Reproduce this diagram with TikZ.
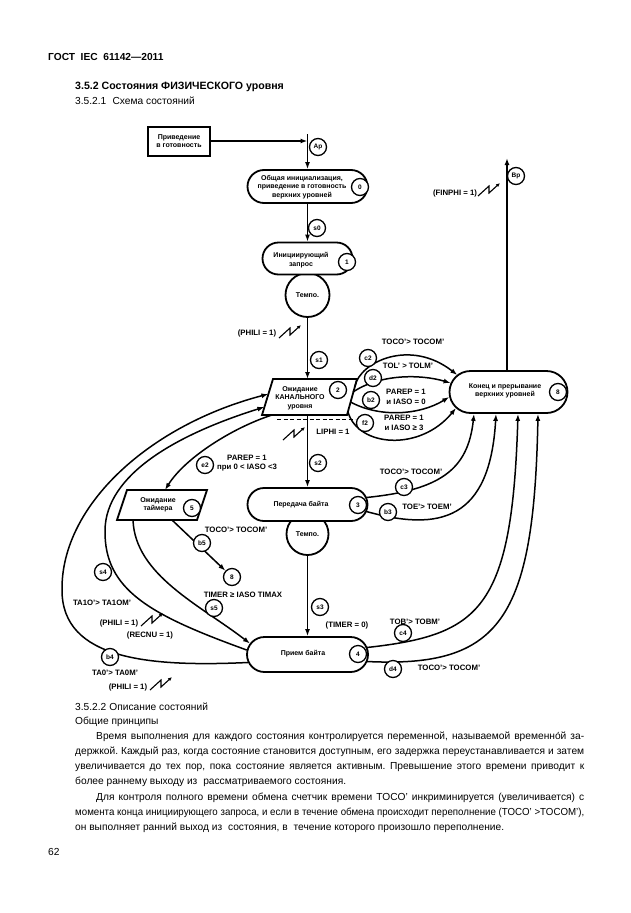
\documentclass[tikz,border=0pt]{standalone}
\usepackage{fontspec}
\usepackage{graphicx}
\setmainfont{Liberation Sans}[WordSpace={1,1,2.2}]
\usetikzlibrary{arrows.meta}
\frenchspacing
\newcommand{\nodefont}{\bfseries\fontsize{7}{8.5}\selectfont}
\newcommand{\condfont}{\bfseries\fontsize{7.8}{9.6}\selectfont}
\newcommand{\numfont}{\bfseries\fontsize{6.5}{7}\selectfont}
\newcommand{\bodyfont}{\fontsize{10.2}{15}\selectfont}
\newcommand{\headfont}{\bfseries\fontsize{10.6}{12}\selectfont}
\tikzset{
  stadium/.style={draw, line width=1.8pt, fill=white, rounded corners=16.5pt,
    minimum width=120pt, minimum height=33pt, inner sep=0pt},
  rdybox/.style={draw, line width=2pt, fill=white, minimum width=62pt,
    minimum height=29pt, inner sep=0pt, align=center, font=\nodefont},
  pbox/.style={draw, line width=1.8pt, fill=white, line join=miter},
  tempo/.style={draw, circle, line width=1.8pt, fill=white, minimum size=44pt,
    inner sep=0pt, font=\nodefont},
  num/.style={draw, circle, line width=1.3pt, fill=white, minimum size=17pt,
    inner sep=0pt, font=\numfont},
  txt/.style={align=center, inner sep=0pt, font=\nodefont},
  cond/.style={align=center, inner sep=0pt, font=\condfont},
  conn/.style={line width=1.5pt, -{Latex[length=7pt,width=5pt]}},
  zap/.style={line width=1.1pt, line join=miter, -{Latex[length=4pt,width=3.5pt]}},
  bodyline/.style={inner sep=0pt, anchor=base west, font=\bodyfont},
}
\begin{document}
\begin{tikzpicture}[x=1pt,y=-1pt]
  \useasboundingbox (0,0) rectangle (630,913);
  \fill[white] (0,0) rectangle (630,913);
% page head
  \node[bodyline, font=\bfseries\fontsize{10.2}{12}\selectfont] (gost) at (48,60.5) {ГОСТ\hspace{0.55em}IEC\hspace{0.55em}61142—2011};
  \node[bodyline, font=\headfont] (sec) at (75,89.5) {3.5.2 Состояния ФИЗИЧЕСКОГО уровня};
  \node[bodyline] (subsec) at (75,104.5) {3.5.2.1\hspace{0.6em}Схема состояний};
% timers (behind the states)
  \node[tempo] (tp1) at (307.5,295) {Темпо.};
  \node[tempo, minimum size=42pt] (tp2) at (307.5,534) {Темпо.};
% states
  \node[rdybox] (rdy) at (179,141) {Приведение\\в готовность};
  \node[stadium] (n0) at (307.5,186.5) {};
  \node[txt] (n0t) at (302,187) {Общая инициализация,\\приведение в готовность\\верхних уровней};
  \node[stadium, minimum width=90pt, minimum height=32pt, rounded corners=16pt] (n1) at (307.5,258.5) {};
  \node[txt] (n1t) at (301,260) {Инициирующий\\запрос};
  \coordinate (n2sw) at (262,415);
  \coordinate (n2nw) at (273,379);
  \coordinate (n2ne) at (357,379);
  \coordinate (n2se) at (347,415);
  \draw[pbox] (n2sw) -- (n2nw) -- (n2ne) -- (n2se) -- cycle;
  \node[txt] (n2t) at (300,398) {Ожидание\\КАНАЛЬНОГО\\уровня};
  \draw[line width=1.2pt, dash pattern=on 4pt off 2.5pt] (277,419.5) -- (355,419.5);
  \node[stadium] (n3) at (307.5,504.5) {};
  \node[txt] (n3t) at (301,505) {Передача байта};
  \node[stadium, minimum width=121pt, minimum height=35pt, rounded corners=17.5pt] (n4) at (307.5,654.5) {};
  \node[txt] (n4t) at (303,654) {Прием байта};
  \coordinate (n5sw) at (117,520);
  \coordinate (n5nw) at (127,490);
  \coordinate (n5ne) at (207,490);
  \coordinate (n5se) at (197,520);
  \draw[pbox] (n5sw) -- (n5nw) -- (n5ne) -- (n5se) -- cycle;
  \node[txt] (n5t) at (158,505) {Ожидание\\таймера};
  \node[stadium, minimum width=118pt, minimum height=42pt, rounded corners=21pt] (n8) at (508.5,392) {};
  \node[txt] (n8t) at (505,391) {Конец и прерывание\\верхних уровней};
% connector ends
  \coordinate (ap) at (307.5,141);
  \coordinate (aptop) at (307.5,134);
  \coordinate (bp) at (507,158);
  \coordinate (n2top) at (307.5,379);
  \coordinate (n2bot) at (307.5,415);
  \coordinate (n2c) at (355,386);
  \coordinate (n2d) at (353,392);
  \coordinate (n2b) at (350.5,402);
  \coordinate (n2f) at (348,412);
  \coordinate (n2e) at (272,415);
  \coordinate (n2b4) at (268.4,394);
  \coordinate (n2s4) at (264.4,407);
  \coordinate (n5top) at (165,490);
  \coordinate (n5a) at (133,520);
  \coordinate (n5b) at (172,520);
  \node[num] (c8) at (232,577) {8};
% main line
  \draw[conn] (rdy.east) -- (ap);
  \draw[conn] (aptop) -- (n0.north);
  \draw[conn] (n0.south) -- (n1.north);
  \draw[conn] (tp1.south) -- (n2top);
  \draw[conn] (n2bot) -- (n3.north);
  \draw[conn] (tp2.south) -- (n4.north);
  \draw[conn] ([xshift=-1.5pt]n8.north) -- (bp);
% state 2 to state 8
  \draw[conn] (n2c) .. controls (360,362) and (410,338) .. ([shift={(8.7,-17)}]n8.west);
  \draw[conn] (n2d) .. controls (380,374) and (420,374) .. ([shift={(2,-9)}]n8.west);
  \draw[conn] (n2b) .. controls (380,418) and (420,415) .. ([shift={(0.6,5)}]n8.west);
  \draw[conn] (n2f) .. controls (358,447) and (420,452) .. ([shift={(7.4,16)}]n8.west);
% states 3 and 4 to state 8
  \draw[conn] ([shift={(-2,-7)}]n3.east) .. controls (440,490) and (468,470) .. ([xshift=-34.5pt]n8.south);
  \draw[conn] ([shift={(-2,7)}]n3.east) .. controls (440,532) and (490,520) .. ([xshift=-12.5pt]n8.south);
  \draw[conn] ([shift={(-2,-7)}]n4.east) .. controls (480,635) and (512,610) .. ([xshift=9.5pt]n8.south);
  \draw[conn] ([shift={(-2,7)}]n4.east) .. controls (500,668) and (534,620) .. ([xshift=29.5pt]n8.south);
% left side
  \draw[conn] ([shift={(1.9,8)}]n4.west) .. controls (150,667) and (62,660) .. (62,590)
    .. controls (61,505) and (150,425) .. (n2b4);
  \draw[conn] ([shift={(0.6,-4.5)}]n4.west) .. controls (150,615) and (104,590) .. (105,530)
    .. controls (106,475) and (175,435) .. (n2s4);
  \draw[conn] (n5a) .. controls (135,575) and (200,605) .. ([shift={(3.9,-11)}]n4.west);
  \draw[conn] (n2e) .. controls (232,428) and (185,458) .. (n5top);
  \draw[conn] (n5b) -- (c8);
% events
  \draw[zap] (478,196) -- ++(11,-10) -- ++(0,7) -- ++(11,-10);
  \draw[zap] (279,338) -- ++(11,-10) -- ++(0,7) -- ++(11,-10);
  \draw[zap] (283,440) -- ++(11,-10) -- ++(0,7) -- ++(11,-10);
  \draw[zap] (141,626) -- ++(11,-10) -- ++(0,7) -- ++(11,-10);
  \draw[zap] (150,690) -- ++(11,-10) -- ++(0,7) -- ++(11,-10);
% numbers
  \node[num] (lap) at (318,147) {Ap};
  \node[num] (lbp) at (516,176) {Bp};
  \node[num] (l0) at (360,187) {0};
  \node[num] (l1) at (347,262) {1};
  \node[num] (l2) at (338,390) {2};
  \node[num] (l3) at (358,505) {3};
  \node[num] (l4) at (358,654) {4};
  \node[num] (l5) at (192,508) {5};
  \node[num] (l8) at (558,392) {8};
  \node[num] (ls0) at (317,228) {s0};
  \node[num] (ls1) at (319,360) {s1};
  \node[num] (ls2) at (318,463) {s2};
  \node[num] (ls3) at (320,607) {s3};
  \node[num] (ls4) at (103,572) {s4};
  \node[num] (ls5) at (214,608) {s5};
  \node[num] (lc2) at (368,358) {c2};
  \node[num] (ld2) at (373,378) {d2};
  \node[num] (lb2) at (371,400) {b2};
  \node[num] (lf2) at (365,423) {f2};
  \node[num] (le2) at (205,465) {e2};
  \node[num] (lb5) at (202,543) {b5};
  \node[num] (lc3) at (404,487) {c3};
  \node[num] (lb3) at (388,512) {b3};
  \node[num] (lc4) at (403,633) {c4};
  \node[num] (ld4) at (393,669) {d4};
  \node[num] (lb4) at (110,657) {b4};
% conditions
  \node[cond] (tfin) at (455,193) {(FINPHI = 1)};
  \node[cond] (tphili) at (257,333) {(PHILI = 1)};
  \node[cond] (tliphi) at (333,432) {LIPHI = 1};
  \node[cond] (tc2) at (413,342) {TOCO'> TOCOM'};
  \node[cond] (td2) at (408,366) {TOL' > TOLM'};
  \node[cond] (tb2) at (406,397) {PAREP = 1\\и IASO = 0};
  \node[cond] (tf2) at (404,423) {PAREP = 1\\и IASO ≥ 3};
  \node[cond] (te2) at (247,463) {PAREP = 1\\при 0 < IASO <3};
  \node[cond] (tb5) at (236,530) {TOCO'> TOCOM'};
  \node[cond] (ttimax) at (243,595) {TIMER ≥ IASO TIMAX};
  \node[cond] (tc3) at (411,472) {TOCO'> TOCOM'};
  \node[cond] (tb3) at (427,507) {TOE'> TOEM'};
  \node[cond] (ttimer) at (347,625) {(TIMER = 0)};
  \node[cond] (tc4) at (415,622) {TOB'> TOBM'};
  \node[cond] (td4) at (449,668) {TOCO'> TOCOM'};
  \node[cond] (ts4a) at (102,603) {TA1O'> TA1OM'};
  \node[cond] (ts4b) at (119,623) {(PHILI = 1)};
  \node[cond] (ts4c) at (150,635) {(RECNU = 1)};
  \node[cond] (tb4a) at (115,673) {TA0'> TA0M'};
  \node[cond] (tb4b) at (128,687) {(PHILI = 1)};
% page text
  \node[bodyline] (p1) at (75,710.5) {3.5.2.2\hspace{0.3em}Описание состояний};
  \node[bodyline] (p2) at (75,724.5) {Общие принципы};
  \node[bodyline] (p3) at (96,739.5) {\makebox[488pt][s]{Время выполнения для каждого состояния контролируется переменной, называемой временно́й за-}};
  \node[bodyline] (p4) at (75,754.5) {\makebox[509pt][s]{держкой. Каждый раз, когда состояние становится доступным, его задержка переустанавливается и затем}};
  \node[bodyline] (p5) at (75,769.5) {\makebox[509pt][s]{увеличивается до тех пор, пока состояние является активным. Превышение этого времени приводит к}};
  \node[bodyline] (p6) at (75,784.5) {более раннему выходу из\hspace{0.3em} рассматриваемого состояния.};
  \node[bodyline] (p7) at (96,800.5) {\makebox[488pt][s]{Для контроля полного времени обмена счетчик времени TOCO' инкриминируется (увеличивается) с}};
  \node[bodyline] (p8) at (75,815.5) {\resizebox{509pt}{\height}{момента конца инициирующего запроса, и если в течение обмена происходит переполнение (TOCO' >TOCOM'),}};
  \node[bodyline] (p9) at (75,830.5) {он выполняет ранний выход из\hspace{0.3em} состояния, в\hspace{0.3em} течение которого произошло переполнение.};
  \node[bodyline] (pg) at (48,855.5) {62};
\end{tikzpicture}
\end{document}
